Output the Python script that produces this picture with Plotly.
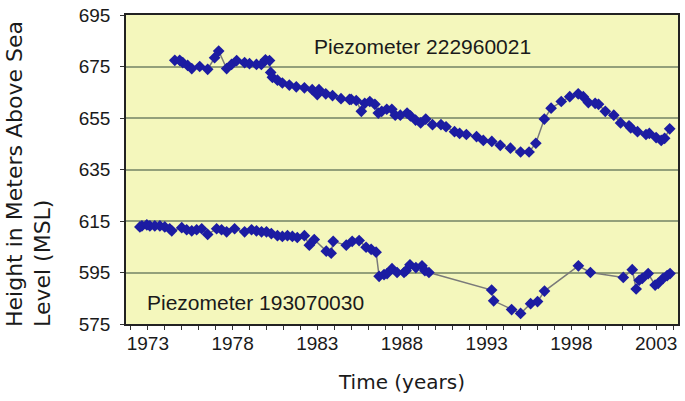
import plotly.graph_objects as go

# Piezometer 222960021 (upper series)
upper_year = [1974.59, 1974.88, 1975.06, 1975.35, 1975.59, 1976.06, 1976.53, 1976.94, 1977.18, 1977.65,
              1977.94, 1978.24, 1978.71, 1979.0, 1979.41, 1979.7, 1979.94, 1980.18, 1980.25, 1980.35,
              1980.65, 1980.94, 1981.35, 1981.76, 1982.24, 1982.7, 1983.0, 1983.1, 1983.5, 1983.9,
              1984.4, 1984.9, 1985.0, 1985.3, 1985.6, 1985.8, 1986.1, 1986.4, 1986.6, 1986.8,
              1987.1, 1987.4, 1987.6, 1987.9, 1988.3, 1988.5, 1988.8, 1989.1, 1989.4, 1989.8,
              1990.3, 1990.6, 1991.1, 1991.4, 1991.8, 1992.4, 1992.8, 1993.3, 1993.8, 1994.4,
              1995.0, 1995.5, 1995.9, 1996.4, 1996.8, 1997.4, 1997.9, 1998.4, 1998.7, 1999.0,
              1999.4, 1999.6, 2000.0, 2000.5, 2000.9, 2001.4, 2001.5, 2001.9, 2002.4, 2002.6,
              2003.0, 2003.3, 2003.5, 2003.8]
upper_level = [677.4, 677.4, 676.5, 675.4, 674.2, 675.0, 673.9, 678.4, 681.0, 674.2,
               675.8, 677.3, 676.5, 676.1, 675.8, 675.8, 677.6, 677.3, 672.7, 670.8,
               669.7, 668.6, 667.8, 667.1, 666.7, 666.0, 664.1, 666.0, 664.4, 663.7,
               662.5, 662.2, 662.2, 661.8, 657.6, 660.7, 661.4, 660.3, 656.9, 657.6,
               658.4, 658.4, 656.1, 656.1, 656.9, 655.8, 654.2, 653.1, 654.6, 652.4,
               652.4, 651.6, 649.7, 649.0, 648.6, 647.8, 646.3, 645.9, 644.4, 643.3,
               641.8, 641.8, 645.2, 654.6, 658.8, 661.4, 663.3, 664.4, 663.3, 661.0,
               660.7, 660.3, 657.6, 656.1, 653.1, 652.0, 651.2, 649.7, 648.6, 649.0,
               647.4, 646.3, 647.1, 650.8]

# Piezometer 193070030 (lower series)
lower_year = [1972.53, 1972.65, 1972.94, 1973.12, 1973.41, 1973.71, 1974.0, 1974.29, 1974.41, 1975.0,
              1975.29, 1975.59, 1975.88, 1976.18, 1976.53, 1977.06, 1977.35, 1977.65, 1978.12, 1978.71,
              1979.12, 1979.41, 1979.71, 1980.0, 1980.29, 1980.65, 1980.94, 1981.24, 1981.53, 1981.82,
              1982.24, 1982.53, 1982.82, 1983.53, 1983.82, 1983.94, 1984.71, 1985.06, 1985.47, 1985.88,
              1986.18, 1986.47, 1986.65, 1986.94, 1987.12, 1987.41, 1987.71, 1988.12, 1988.24, 1988.47,
              1988.82, 1989.18, 1989.35, 1989.59, 1993.29, 1993.41, 1994.47, 1995.0, 1995.59, 1996.0,
              1996.41, 1998.41, 1999.12, 2001.06, 2001.59, 2001.82, 2002.0, 2002.18, 2002.53, 2002.94,
              2003.12, 2003.41, 2003.65, 2003.82]
lower_level = [612.7, 613.1, 613.5, 613.1, 613.1, 613.1, 612.7, 612.0, 611.2, 612.4,
               611.6, 611.2, 611.6, 612.0, 609.8, 612.0, 611.6, 610.8, 612.0, 610.8,
               611.6, 611.2, 610.8, 610.8, 610.1, 609.3, 609.0, 609.3, 609.0, 608.6,
               609.3, 605.6, 607.8, 603.3, 602.5, 607.1, 605.6, 607.1, 607.4, 604.8,
               604.0, 602.9, 593.5, 594.2, 594.6, 596.5, 595.0, 595.0, 595.7, 598.0,
               596.9, 597.6, 595.7, 595.0, 588.2, 584.0, 580.6, 579.1, 582.9, 583.7,
               587.8, 597.6, 595.0, 593.1, 596.1, 588.6, 592.0, 592.7, 594.6, 590.1,
               590.8, 592.7, 593.8, 594.6]

year_ticks = [1973, 1978, 1983, 1988, 1993, 1998, 2003]
level_ticks = [575, 595, 615, 635, 655, 675, 695]

MARKER = dict(symbol="diamond", size=9, color="#1C1CA2", line=dict(width=0))
LINE = dict(color="#7A7A7A", width=1.5)

fig = go.Figure()
fig.add_trace(go.Scatter(x=upper_year, y=upper_level, mode="lines+markers",
                         marker=MARKER, line=LINE, name="Piezometer 222960021"))
fig.add_trace(go.Scatter(x=lower_year, y=lower_level, mode="lines+markers",
                         marker=MARKER, line=LINE, name="Piezometer 193070030"))

tick_font = dict(family="Liberation Sans, Arial", size=19, color="#1a1a1a")
title_font = dict(family="DejaVu Sans", size=20, color="#1a1a1a")

fig.add_annotation(x=1989.2, y=682.9, text="Piezometer 222960021", showarrow=False,
                   font=dict(family="Liberation Sans, Arial", size=21, color="#1a1a1a"))
fig.add_annotation(x=1979.35, y=583.3, text="Piezometer 193070030", showarrow=False,
                   font=dict(family="Liberation Sans, Arial", size=21, color="#1a1a1a"))
fig.add_annotation(xref="paper", yref="paper", x=-0.176, y=0.485, textangle=-90,
                   xanchor="center", yanchor="middle",
                   text="Height in Meters Above Sea<br>Level (MSL)", align="left",
                   showarrow=False, font=dict(family="DejaVu Sans", size=22, color="#1a1a1a"))

fig.update_xaxes(
    range=[1971.71, 2004.29],
    tickvals=year_ticks, ticktext=[str(y) for y in year_ticks],
    ticks="outside", ticklen=4, tickcolor="#333",
    minor=dict(tick0=1973, dtick=1, ticks="outside", ticklen=4, tickcolor="#333"),
    ticklabelstandoff=-3,
    showgrid=False, zeroline=False,
    showline=True, linecolor="#222", linewidth=1.5, mirror=True,
    tickfont=tick_font,
    title=dict(text="Time (years)", font=title_font, standoff=22),
)
fig.update_yaxes(
    range=[575, 695],
    tickvals=level_ticks,
    ticks="outside", ticklen=4, tickcolor="#333",
    ticklabelstandoff=6, ticklabeloverflow="allow",
    showgrid=True, gridcolor="#93A07A", gridwidth=1.5,
    zeroline=False,
    showline=True, linecolor="#222", linewidth=1.5, mirror=True,
    tickfont=tick_font,
)

fig.update_layout(
    width=685, height=401,
    margin=dict(l=126, r=5, t=6, b=77),
    plot_bgcolor="#F4F7BC",
    paper_bgcolor="white",
    showlegend=False,
)

fig.write_html("out.html", config={"displayModeBar": False},
               post_script="document.body.style.margin='0';")
